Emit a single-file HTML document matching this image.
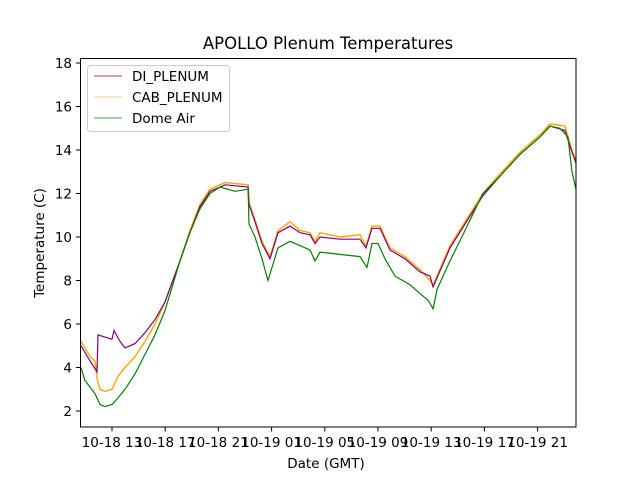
<!DOCTYPE html>
<html><head><meta charset="utf-8"><style>
body{margin:0;background:#fff}
svg{display:block;font-family:"DejaVu Sans","Liberation Sans",sans-serif}
</style></head><body>
<svg id="chart" width="640" height="480">
<rect width="640" height="480" fill="#fff"/>
<text x="328" y="49" text-anchor="middle" font-size="16.5">APOLLO Plenum Temperatures</text>
<g id="plot"></g>
<rect x="80.5" y="58.5" width="495.5" height="368.5" fill="none" stroke="#000" stroke-width="1"/>
<g id="axes"></g>
<text x="326" y="468" text-anchor="middle" font-size="13.5">Date (GMT)</text>
<text x="0" y="0" transform="translate(44,243) rotate(-90)" text-anchor="middle" font-size="13.5">Temperature (C)</text>
<g>
<rect x="87.5" y="65.5" width="142" height="66" rx="3" fill="#fff" stroke="#ccc"/>
<line x1="94" y1="76" x2="122" y2="76" stroke="purple" stroke-width="0.8"/>
<text x="132" y="81" font-size="13.5">DI_PLENUM</text>
<line x1="94" y1="97" x2="122" y2="97" stroke="orange" stroke-width="0.5"/>
<text x="132" y="102" font-size="13.5">CAB_PLENUM</text>
<line x1="94" y1="118" x2="122" y2="118" stroke="green" stroke-width="0.8"/>
<text x="132" y="123" font-size="13.5">Dome Air</text>
</g>
</svg>
<script>
const yTicks=[2,4,6,8,10,12,14,16,18];
const xTickHours=[13,17,21,25,29,33,37,41,45];
const xTickLabels=["10-18 13","10-18 17","10-18 21","10-19 01","10-19 05","10-19 09","10-19 13","10-19 17","10-19 21"];
const domeHours=[10.67,10.97,11.35,11.72,12.10,12.47,13,13.45,13.98,14.73,15.48,16.23,16.98,18.11,18.86,19.62,20.37,21.12,22.25,23.23,23.3,23.75,24.28,24.73,25.03,25.48,26.38,27.14,27.89,28.26,28.64,30.14,31.65,32.17,32.55,33,33.53,34.28,35.41,36.16,36.76,37.14,37.44,38.41,39.54,40.89,42.17,43.68,45.18,45.93,46.68,47.28,47.59,47.89];
const domeValues=[4.0,3.4,3.1,2.8,2.3,2.2,2.3,2.6,3.0,3.7,4.6,5.5,6.6,8.9,10.2,11.3,12.0,12.3,12.1,12.2,10.6,10.0,9.0,8.0,8.6,9.5,9.8,9.6,9.4,8.9,9.3,9.2,9.1,8.6,9.7,9.7,9.0,8.2,7.8,7.4,7.1,6.7,7.6,8.9,10.3,12.0,12.8,13.8,14.6,15.1,15.0,14.6,13.0,12.2];
const cabHours=[10.67,11.35,11.72,11.87,12.10,12.47,13,13.45,13.98,14.73,15.48,16.23,16.98,18.11,18.86,19.62,20.37,21.5,23.23,23.3,23.75,24.28,24.88,25.48,26.38,27.14,27.89,28.26,28.64,30.14,31.65,32.1,32.55,33.15,33.9,35.03,36.16,36.91,37.14,38.41,39.54,40.89,42.17,43.68,45.18,45.93,47.05,47.59,47.89];
const cabValues=[5.2,4.5,4.3,3.5,3.0,2.9,3.0,3.6,4.0,4.5,5.2,6.0,7.0,8.9,10.3,11.5,12.2,12.5,12.4,11.6,10.8,9.8,9.1,10.3,10.7,10.3,10.2,9.8,10.2,10.0,10.1,9.6,10.5,10.5,9.5,9.1,8.5,8.0,7.8,9.6,10.7,12.0,12.9,13.9,14.7,15.2,15.1,14.0,13.5];
const diHours=[10.67,11.35,11.87,11.95,12.47,13,13.15,13.6,13.98,14.73,15.48,16.23,16.98,18.11,18.86,19.62,20.37,21.5,23.23,23.3,23.75,24.28,24.88,25.48,26.38,27.14,27.89,28.26,28.64,30.14,31.65,32.1,32.55,33.15,33.9,35.03,36.16,36.91,37.14,38.41,39.54,40.89,42.17,43.68,45.18,45.93,47.05,47.59,47.89];
const diValues=[5.0,4.3,3.8,5.5,5.4,5.3,5.7,5.2,4.9,5.1,5.6,6.2,7.0,8.9,10.2,11.4,12.1,12.4,12.3,11.5,10.7,9.7,9.0,10.2,10.5,10.2,10.1,9.7,10.0,9.9,9.9,9.5,10.4,10.4,9.4,9.0,8.4,8.2,7.7,9.5,10.6,11.9,12.8,13.8,14.6,15.1,14.9,13.9,13.4];
const NS="http://www.w3.org/2000/svg";
function xs(h){return 112+13.3*(h-13);}
function ys(v){return 411-(v-2)*21.75;}
const plot=document.getElementById('plot'),axes=document.getElementById('axes');
function series(hours,vals,color,w,name){
  const p=document.createElementNS(NS,'polyline');
  p.setAttribute('points',hours.map((h,i)=>xs(h).toFixed(1)+','+ys(vals[i]).toFixed(1)).join(' '));
  p.setAttribute('fill','none');p.setAttribute('stroke',color);p.setAttribute('stroke-width',w);
  
  
  plot.appendChild(p);
}
series(cabHours,cabValues,'orange',1.4,'cab-plenum-line');
series(diHours,diValues,'purple',1.2,'di-plenum-line');
series(domeHours,domeValues,'green',1.2,'dome-air-line');
yTicks.forEach(v=>{
  const y=ys(v);
  const l=document.createElementNS(NS,'line');
  l.setAttribute('x1',76);l.setAttribute('x2',80.5);l.setAttribute('y1',y);l.setAttribute('y2',y);l.setAttribute('stroke','#000');
  
  
  axes.appendChild(l);
  const t=document.createElementNS(NS,'text');
  t.setAttribute('x',72);t.setAttribute('y',y+5);t.setAttribute('text-anchor','end');t.setAttribute('font-size','13.5');
  t.textContent=v;
  
  
  axes.appendChild(t);
});
xTickHours.forEach((h,i)=>{
  const x=xs(h);
  const l=document.createElementNS(NS,'line');
  l.setAttribute('x1',x);l.setAttribute('x2',x);l.setAttribute('y1',427);l.setAttribute('y2',431.5);l.setAttribute('stroke','#000');
  
  
  axes.appendChild(l);
  const t=document.createElementNS(NS,'text');
  t.setAttribute('x',x);t.setAttribute('y',447);t.setAttribute('text-anchor','middle');t.setAttribute('font-size','13.5');
  t.textContent=xTickLabels[i];
  
  
  axes.appendChild(t);
});
</script>
</body></html>
